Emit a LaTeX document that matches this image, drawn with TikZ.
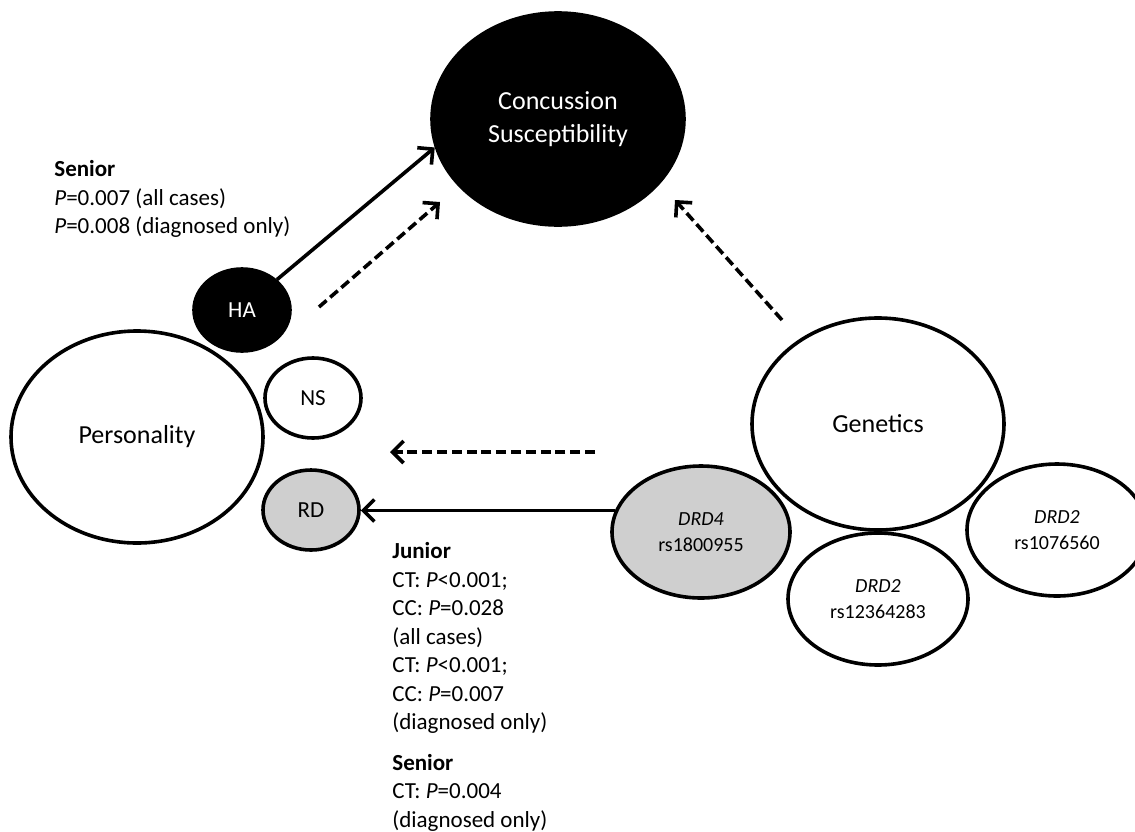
\documentclass[tikz,border=0pt]{standalone}
\usepackage{fontspec}
\setmainfont{Carlito}
\usetikzlibrary{shapes.geometric,arrows.meta}
\begin{document}
\begin{tikzpicture}[x=0.5pt,y=-0.5pt,
    blob/.style={ellipse,draw,line width=1.8pt,inner sep=0pt,align=center},
    big/.style={blob,minimum width=126pt,minimum height=106pt,font=\fontsize{13}{16.5}\selectfont},
    small/.style={blob,minimum width=48pt,minimum height=40pt,font=\fontsize{11.5}{14}\selectfont},
    snp/.style={blob,minimum width=90pt,minimum height=66pt,font=\fontsize{10}{13}\selectfont},
    stats/.style={anchor=north west,align=left,inner sep=0pt,font=\fontsize{11.5}{14.25}\selectfont},
    solidarrow/.style={line width=1.8pt,-{Straight Barb[length=5.5pt,width=11pt]}},
    dasharrow/.style={solidarrow,dash pattern=on 5pt off 2.4pt}]
\useasboundingbox (0,0) rectangle (1135,831);
% the three domains
\node[big,fill=black,text=white] (conc) at (558,119) {Concussion\\Susceptibility};
\node[big] (pers) at (137,437) {Personality};
\node[big] (gen) at (878,424) {Genetics};
% personality traits
\node[small,fill=black,text=white,minimum height=41pt] (HA) at (242,310) {HA};
\node[small] (NS) at (313,398) {NS};
\node[small,fill=black!19] (RD) at (311,510) {RD};
% gene variants
\node[snp,minimum width=89pt,fill=black!19] (drdfour) at (701,532) {\textit{DRD4}\\rs1800955};
\node[snp] (drdtwoa) at (878,599) {\textit{DRD2}\\rs12364283};
\node[snp] (drdtwob) at (1057,530) {\textit{DRD2}\\rs1076560};
% hypothesised links
\coordinate (persfrom) at (319,307);
\coordinate (persto) at (440,202);
\coordinate (genfrom) at (782,320);
\coordinate (gento) at (675,200);
\coordinate (linkfrom) at (595,452);
\coordinate (linkto) at (390,452);
\draw[dasharrow] (persfrom) -- (persto);
\draw[dasharrow] (genfrom) -- (gento);
\draw[dasharrow] (linkfrom) -- (linkto);
% significant links
\draw[solidarrow] (HA.41) -- (conc.193);
\draw[solidarrow] (drdfour.166) -- (drdfour.166 -| RD.east);
\node[stats] (senior) at (54,160) {\textbf{Senior}\\\textit{P}=0.007 (all cases)\\\textit{P}=0.008 (diagnosed only)};
\node[stats] (junior) at (392,542) {\textbf{Junior}\\CT: \textit{P}<0.001;\\CC: \textit{P}=0.028\\(all cases)\\CT: \textit{P}<0.001;\\CC: \textit{P}=0.007\\(diagnosed only)\\[6pt]\textbf{Senior}\\CT: \textit{P}=0.004\\(diagnosed only)};
\end{tikzpicture}
\end{document}
